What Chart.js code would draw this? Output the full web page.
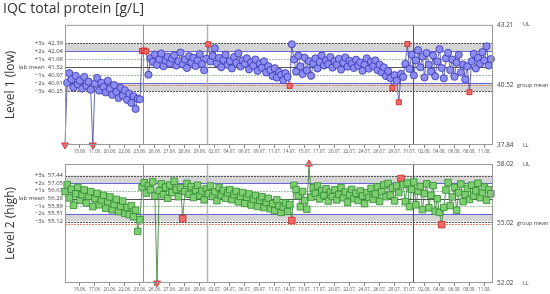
<!DOCTYPE html>
<html>
<head>
<meta charset="utf-8">
<script src="https://cdn.jsdelivr.net/npm/chart.js@4.4.1/dist/chart.umd.min.js"></script>
<style>
  html, body { margin: 0; padding: 0; background: #fff; }
  #wrap { position: relative; width: 550px; height: 294px; }
  canvas { position: absolute; left: 0; }
  #lowChart { top: 0; }
  #highChart { top: 156px; }
</style>
</head>
<body>
<div id="wrap">
  <canvas id="lowChart" width="550" height="160"></canvas>
  <canvas id="highChart" width="550" height="138"></canvas>
</div>
<script>
const dateLabels = ["15.06.", "17.06.", "20.06.", "22.06.", "23.06.", "26.06.", "27.06.", "28.06.", "29.06.", "02.07.",
  "04.07.", "06.07.", "09.07.", "11.07.", "14.07.", "15.07.", "17.07.", "20.07.", "22.07.", "24.07.",
  "26.07.", "29.07.", "31.07.", "02.08.", "04.08.", "06.08.", "08.08.", "11.08."];

const sigmaNames = ["\u22123s", "\u22122s", "\u22121s", "lab mean", "+1s", "+2s", "+3s"];
const limitNames = ["LL", "group mean", "UL"];

// level 1 (low)
const lowSigma = [40.25, 40.61, 40.97, 41.32, 41.68, 42.04, 42.39];
const lowLimits = [37.84, 40.52, 43.21];
const lowValues = [
  37.84,
  40.62, 41.05, 40.78, 40.41, 40.93, 40.55, 40.72, 40.36, 40.88, 40.49,
  40.67, 40.31,
  37.84,
  40.58, 40.84, 40.27, 40.62, 40.43, 40.19, 40.71,
  40.35, 40.08, 40.52, 40.21, 39.94, 40.39, 40.05, 40.28, 39.86, 40.13,
  39.72, 40.02, 39.45, 39.91, 39.88,
  42.04, 42.06, 42.02,
  40.98,
  41.72, 41.55, 41.88, 41.42, 41.67, 41.93, 41.36, 41.61, 41.79, 41.48, 41.70,
  41.85, 41.39, 41.58, 41.97, 41.44, 41.66, 41.28, 41.81, 41.53, 41.74,
  41.37, 41.62, 41.90, 41.45, 41.18, 41.69,
  42.34,
  41.57, 41.82, 42.16, 41.49, 41.73, 41.31, 41.64, 41.88,
  41.42, 41.59, 41.26, 41.77, 41.51, 41.93, 41.35, 41.62, 41.46, 41.71,
  41.22, 41.54, 41.38, 41.66, 41.15, 41.47, 41.29, 41.58, 41.08, 41.36,
  41.19, 40.92, 41.27, 40.85, 41.11, 40.97, 40.74, 41.05, 40.88,
  40.48,
  42.34,
  41.66, 41.12, 41.83, 41.35, 41.01, 41.74, 41.18, 41.59, 40.93,
  41.48, 41.71, 41.26, 41.55, 41.84, 41.39, 41.62, 41.45, 41.77, 41.30,
  41.58, 41.42, 41.69, 41.21, 41.51, 41.75, 41.34, 41.60, 41.47, 41.28,
  41.65, 41.39, 41.53, 41.16, 41.44, 41.71, 41.25, 41.56, 41.37, 41.62,
  41.19, 41.43, 41.08, 41.31, 40.92, 41.14, 40.83,
  40.39,
  40.96, 40.71,
  39.75,
  41.02, 40.88, 41.47,
  42.35,
  41.24, 41.88, 40.95, 41.62, 42.08, 41.31, 41.79, 40.86, 41.95, 41.43,
  41.12, 41.84, 40.91, 41.57, 42.12, 41.28, 40.82, 41.71, 41.96, 41.19,
  41.66, 40.89, 41.52, 41.87, 41.08, 41.44, 40.77, 41.35,
  40.20,
  41.58, 41.91, 41.26, 41.73, 41.47, 41.99, 41.62, 42.25, 41.39, 41.68
];
const lowFlagged = [0, 13, 36, 37, 38, 67, 105, 153, 156, 160, 189];

// level 2 (high)
const highSigma = [55.12, 55.51, 55.89, 56.28, 56.67, 57.05, 57.44];
const highLimits = [52.02, 55.02, 58.02];
const highValues = [
  56.62, 56.98, 56.31, 56.75, 55.94, 56.52, 56.84, 56.18, 56.47, 56.71,
  56.05, 56.39, 56.63, 55.87, 56.28, 56.54, 55.96, 56.21, 56.44, 55.79,
  56.12, 56.36, 55.71, 55.98, 56.24, 55.62, 55.89, 56.15, 55.54, 55.83,
  55.47, 55.92, 55.36, 55.68, 54.62, 55.21,
  56.86, 57.08, 56.55, 56.93, 56.72, 57.12, 56.41,
  52.02,
  56.68, 57.02, 56.47, 56.85, 56.29, 56.96, 56.58, 57.15, 56.74, 56.37, 56.82,
  55.27,
  56.63, 57.04, 56.49, 56.88, 56.33, 56.71, 56.95, 56.42, 56.66, 56.21,
  56.78, 56.52, 56.91, 56.38, 56.62, 56.17, 56.84, 56.45, 56.69, 56.29,
  56.57, 56.73, 56.22, 56.48, 56.64, 56.11, 56.39, 56.58, 56.03, 56.34,
  56.51, 55.95, 56.26, 56.43, 55.88, 56.19, 56.37, 55.82, 56.08, 56.29,
  55.76, 56.02, 55.67, 56.21, 55.91, 55.58, 55.84, 56.06, 55.63, 55.97,
  55.17,
  56.94, 56.72, 56.41, 55.86, 56.63, 56.18, 55.74,
  58.02,
  56.35, 56.82, 56.54, 56.91, 56.26, 56.68, 56.43, 56.77, 56.15, 56.59,
  56.38, 56.72, 56.21, 56.49, 56.83, 56.32, 56.61, 56.09, 56.46, 56.74,
  56.27, 56.55, 56.18, 56.66, 56.41, 56.02, 56.58, 56.33, 56.79, 56.24,
  56.51, 56.87, 56.13, 56.62, 56.96, 56.37, 57.04, 56.45, 56.81, 56.16, 56.92, 56.58,
  57.29,
  56.98, 56.12, 57.06, 55.87, 56.74, 57.11, 55.96, 56.65, 56.89, 55.72,
  56.53, 57.02, 55.81, 56.44, 56.93, 55.64, 56.27, 55.58,
  54.96,
  55.83, 56.71, 57.08, 55.92, 56.36, 56.84, 55.69, 56.57, 57.01, 56.12,
  56.48, 56.79, 56.23, 56.95, 56.41, 56.67, 57.05, 56.32, 56.58, 56.86, 56.19, 56.73, 56.52
];
const highFlagged = [43, 55, 106, 114, 157, 176];

// run index where the lot / calibration events happen
const eventRuns = [36.4, 66.4, 162.6];

const FONT = "'Open Sans', 'DejaVu Sans', sans-serif";

function qcPlugin(sigma, limits) {
  return {
    id: "qcLines",
    beforeDatasetsDraw(chart) {
      const { ctx, chartArea: a, scales } = chart;
      const py = v => scales.y.getPixelForValue(v);
      ctx.save();
      // grey bands between 2s and 3s
      ctx.fillStyle = "#d5d5d5";
      ctx.fillRect(a.left, py(sigma[6]), a.width, py(sigma[5]) - py(sigma[6]));
      ctx.fillRect(a.left, py(sigma[1]), a.width, py(sigma[0]) - py(sigma[1]));

      const hline = (v, color, dash, w) => {
        const y = Math.round(py(v)) + 0.5;
        ctx.beginPath();
        ctx.setLineDash(dash);
        ctx.strokeStyle = color;
        ctx.lineWidth = w;
        ctx.moveTo(a.left, y);
        ctx.lineTo(a.right, y);
        ctx.stroke();
      };
      hline(sigma[6], "#555", [2, 1], 1);
      hline(sigma[0], "#555", [2, 1], 1);
      hline(sigma[5], "#6666d8", [], 1);
      hline(sigma[1], "#6666d8", [], 1);
      hline(sigma[4], "#9cc59c", [2, 1], 1);
      hline(sigma[2], "#9cc59c", [2, 1], 1);
      hline(sigma[3], "#555", [], 1);
      hline(limits[1], "#e4886a", [2, 1], 1);

      // event lines
      const eventColors = ["#e06a88", "#b4b4b4", "#555"];
      eventRuns.forEach((r, i) => {
        const x = Math.round(scales.x.getPixelForValue(r)) + 0.5;
        ctx.beginPath();
        ctx.setLineDash([]);
        ctx.strokeStyle = eventColors[i];
        ctx.lineWidth = i === 1 ? 1.5 : 1;
        ctx.moveTo(x, a.top);
        ctx.lineTo(x, a.bottom);
        ctx.stroke();
      });
      ctx.restore();
    },
    afterDatasetsDraw(chart) {
      const { ctx, chartArea: a, scales } = chart;
      ctx.save();
      ctx.strokeStyle = "#999";
      ctx.lineWidth = 1;
      ctx.strokeRect(a.left + 0.5, a.top + 0.5, a.width - 1, a.height - 1);
      // names next to the right-hand limit values
      ctx.fillStyle = "#444";
      ctx.font = "5.5px " + FONT;
      ctx.textBaseline = "middle";
      limits.forEach((v, i) => {
        const x = i === 1 ? a.right + 24 : a.right + 30;
        ctx.fillText(limitNames[i], x, scales.y.getPixelForValue(v));
      });
      ctx.restore();
    }
  };
}

function makeChart(id, cfg) {
  const lo = cfg.limits[0], hi = cfg.limits[2];
  const isRed = i => cfg.flagged.includes(i);
  const offScale = i => cfg.values[i] <= lo || cfg.values[i] >= hi;

  return new Chart(document.getElementById(id), {
    type: "line",
    data: {
      datasets: [{
        data: cfg.values.map((v, i) => ({ x: i, y: v })),
        borderColor: cfg.lineColor,
        borderWidth: 0.8,
        tension: 0,
        clip: 8,
        pointRadius: ctx => offScale(ctx.dataIndex) ? 4 : cfg.radius,
        pointStyle: ctx => offScale(ctx.dataIndex) ? "triangle" : (isRed(ctx.dataIndex) ? "rect" : cfg.pointStyle),
        pointRotation: ctx => cfg.values[ctx.dataIndex] <= lo ? 180 : 0,
        pointBackgroundColor: ctx => isRed(ctx.dataIndex) ? "#f06a6a" : cfg.fill,
        pointBorderColor: ctx => isRed(ctx.dataIndex) ? "#c82020" : cfg.stroke,
        pointBorderWidth: 0.8
      }]
    },
    options: {
      responsive: false,
      animation: false,
      layout: { padding: { left: 3, right: 0, top: cfg.padTop, bottom: 0 } },
      plugins: {
        legend: { display: false },
        tooltip: { enabled: false },
        title: cfg.title ? {
          display: true, text: cfg.title, align: "start", color: "#333",
          font: { family: FONT, size: 14, weight: "normal" },
          padding: { top: 1, bottom: 7 }
        } : { display: false }
      },
      scales: {
        x: {
          type: "linear", min: 0, max: 200,
          afterBuildTicks: s => { s.ticks = dateLabels.map((d, k) => ({ value: (k + 1) * 7 })); },
          afterFit: s => { s.height = cfg.xHeight; },
          grid: { drawOnChartArea: false, drawTicks: true, tickLength: 3, color: "#888" },
          border: { display: false },
          ticks: {
            autoSkip: false, maxRotation: 0, padding: 1, color: "#555",
            font: { family: FONT, size: 4.5 },
            callback: (v, i) => dateLabels[i]
          }
        },
        y: {
          position: "left", min: lo, max: hi,
          afterBuildTicks: s => { s.ticks = cfg.sigma.map(v => ({ value: v })); },
          afterFit: s => { s.width = 62; },
          grid: { display: false, drawTicks: false },
          border: { display: false },
          ticks: {
            autoSkip: false, padding: 2, color: "#444",
            font: { family: FONT, size: 6 },
            callback: (v, i) => sigmaNames[i] + "  " + v.toFixed(2)
          },
          title: {
            display: true, text: cfg.levelTitle, color: "#333",
            font: { family: FONT, size: 12 }, padding: 0
          }
        },
        y2: {
          position: "right", min: lo, max: hi,
          afterBuildTicks: s => { s.ticks = cfg.limits.map(v => ({ value: v })); },
          afterFit: s => { s.width = 57; },
          grid: { display: false, drawTicks: false },
          border: { display: false },
          ticks: {
            autoSkip: false, padding: 4, color: "#444",
            font: { family: FONT, size: 6.5 },
            callback: v => v.toFixed(2)
          }
        }
      }
    },
    plugins: [qcPlugin(cfg.sigma, cfg.limits)]
  });
}

makeChart("lowChart", {
  title: "IQC total protein [g/L]",
  levelTitle: "Level 1 (low)",
  values: lowValues, flagged: lowFlagged, sigma: lowSigma, limits: lowLimits,
  lineColor: "#45459a", fill: "#8c8cf2", stroke: "#3535b0",
  pointStyle: "circle", radius: 3.6, padTop: 0, xHeight: 15
});

makeChart("highChart", {
  title: null,
  levelTitle: "Level 2 (high)",
  values: highValues, flagged: highFlagged, sigma: highSigma, limits: highLimits,
  lineColor: "#2e7a2e", fill: "#7fcf72", stroke: "#2f8a2f",
  pointStyle: "rect", radius: 4.6, padTop: 8, xHeight: 11
});
</script>
</body>
</html>
